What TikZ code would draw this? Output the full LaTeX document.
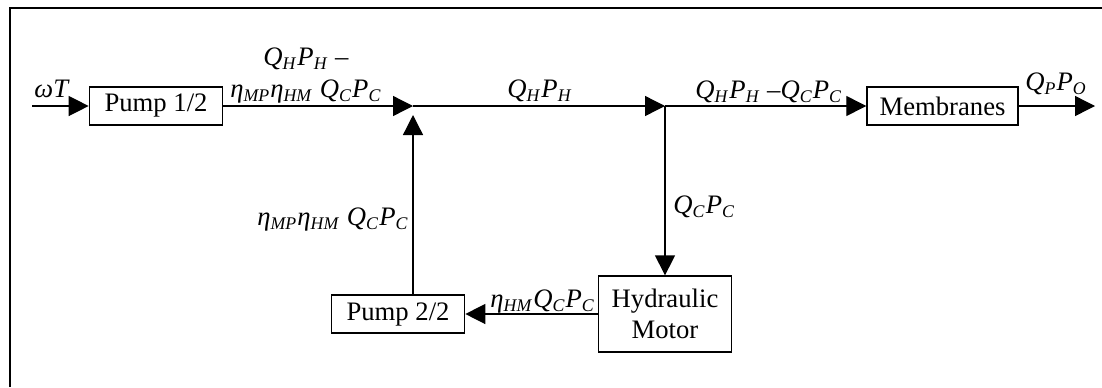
\documentclass[tikz,border=0pt]{standalone}
\usepackage{fontspec}
\setmainfont{Liberation Serif}
\usetikzlibrary{arrows.meta,calc,positioning}
\newcommand{\qsub}[2]{\textit{#1}\textsubscript{\textit{#2}}}
\tikzset{
  block node/.style={draw,line width=0.6pt,minimum height=17.1pt,
    minimum width=60pt,inner sep=2pt},
  flow arrow/.style={-{Triangle[length=9pt,width=9pt]},line width=0.6pt},
  flow label/.style={inner sep=0pt,anchor=base west},
  frame line/.style={line width=1.2pt},
}

\begin{document}
\begin{tikzpicture}[x=0.45pt,y=-0.45pt,font=\fontsize{12}{14}\selectfont]
  \useasboundingbox (0,0) rectangle (1102,387);
  \draw[frame line] (10,387) -- (10,8) -- (1102,8);
  % blocks
  \node[block node] (pump1) at (156,106) {Pump 1/2};
  \node[block node,minimum width=68pt] (membr) at (942.5,106) {Membranes};
  \node[block node] (pump2) at (398,314) {Pump 2/2};
  \node[block node,minimum height=34.2pt,align=center] (motor) at (665,314)
    {Hydraulic\\Motor};
  % junctions and free ends
  \coordinate (in) at (32,106);
  \coordinate (j1) at (413,106);
  \coordinate (j1b) at (413,115);
  \coordinate (j2) at (665,106);
  \coordinate (out) at (1095,106);
  % flows
  \draw[flow arrow] (in) -- (pump1);
  \draw[flow arrow] (pump1) -- (j1);
  \draw[flow arrow] (pump2.north -| j1) -- (j1b);
  \draw[flow arrow] (j1) -- (j2);
  \draw[flow arrow] (j2) -- (membr);
  \draw[flow arrow] (j2) -- (motor);
  \draw[flow arrow] (motor) -- (pump2);
  \draw[flow arrow] (membr) -- (out);
  % labels
  \node[flow label] (lwt) at (34,97) {\textit{ωT}};
  \node[inner sep=0pt,anchor=base,align=center] (lmix) at (306,97)
    {\qsub{Q}{H}\qsub{P}{H} –\\\qsub{η}{MP}\qsub{η}{HM} \qsub{Q}{C}\qsub{P}{C}};
  \node[inner sep=0pt,anchor=base] (lhigh) at (540,97) {\qsub{Q}{H}\qsub{P}{H}};
  \node[flow label] (lfeed) at (695,98) {\qsub{Q}{H}\qsub{P}{H} –\qsub{Q}{C}\qsub{P}{C}};
  \node[flow label] (lout) at (1025,90) {\qsub{Q}{P}\qsub{P}{O}};
  \node[flow label] (lconc) at (673,213) {\qsub{Q}{C}\qsub{P}{C}};
  \node[flow label] (lback) at (257,225) {\qsub{η}{MP}\qsub{η}{HM} \qsub{Q}{C}\qsub{P}{C}};
  \node[flow label] (lmotor) at (490,307) {\qsub{η}{HM}\qsub{Q}{C}\qsub{P}{C}};
\end{tikzpicture}
\end{document}
